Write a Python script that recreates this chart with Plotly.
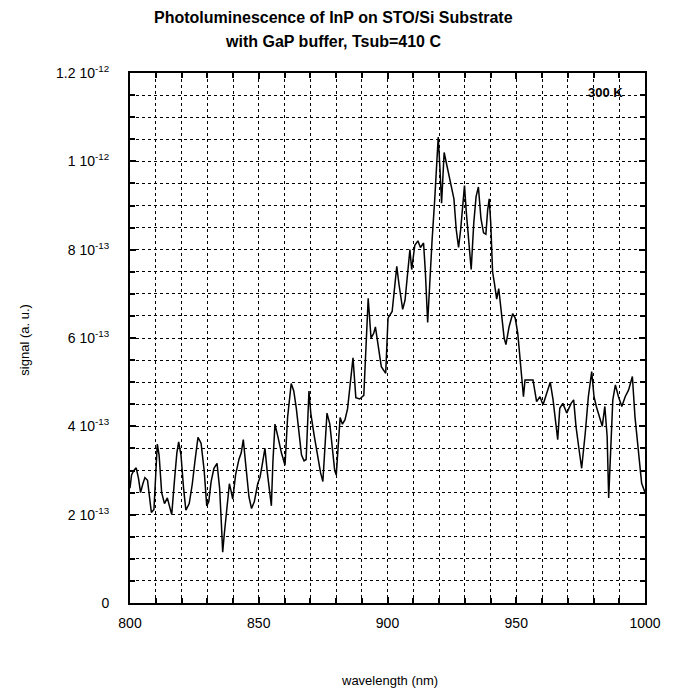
import plotly.graph_objects as go

wavelength_nm = [
    800.0, 800.6, 801.5, 802.4, 803.3, 804.1, 805.0, 805.8, 806.8, 807.6, 808.3, 809.3,
    810.0, 810.6, 811.3, 812.3, 813.4, 814.5, 815.3, 816.2, 817.3, 818.2, 818.9, 819.8,
    820.8, 821.7, 823.0, 824.2, 825.2, 826.4, 827.6, 828.8, 829.8, 830.6, 831.5, 832.6,
    833.8, 834.8, 835.4, 836.0, 836.6, 837.5, 838.6, 839.2, 839.9, 841.0, 842.3, 843.2,
    844.0, 845.0, 846.2, 847.2, 848.3, 849.6, 850.5, 851.4, 852.4, 853.3, 854.2, 854.9,
    855.5, 856.3, 857.5, 858.8, 860.2, 861.2, 862.6, 863.6, 864.6, 865.5, 866.6, 867.6,
    868.4, 869.5, 870.2, 871.5, 872.8, 874.0, 874.9, 875.8, 876.5, 877.6, 878.6, 879.5,
    880.1, 881.0, 881.6, 882.5, 883.5, 884.5, 885.4, 886.6, 887.7, 889.2, 890.8, 891.6,
    892.5, 893.6, 894.6, 895.3, 896.5, 897.6, 899.3, 900.2, 901.8, 902.6, 903.6, 904.5,
    905.9, 906.8, 908.2, 908.7, 909.4, 910.6, 911.8, 912.8, 914.0, 914.7, 915.6, 916.4,
    917.3, 918.3, 919.1, 919.7, 920.4, 921.0, 922.0, 922.9, 924.2, 925.8, 926.7, 927.6,
    928.4, 929.3, 929.9, 930.6, 931.6, 932.5, 933.5, 934.4, 935.3, 936.3, 937.3, 938.2,
    938.9, 939.5, 940.1, 940.8, 941.5, 942.4, 943.2, 944.3, 945.3, 946.0, 947.2, 948.6,
    949.6, 950.6, 951.3, 952.2, 952.8, 953.4, 954.8, 956.5, 957.9, 959.2, 960.4, 961.7,
    963.2, 964.3, 965.4, 966.1, 966.9, 968.1, 969.6, 971.3, 972.3, 973.2, 974.4, 975.4,
    976.8, 978.0, 979.3, 980.2, 981.1, 982.2, 983.4, 984.4, 985.3, 985.9, 986.6, 987.5,
    988.5, 989.7, 991.0, 992.3, 993.6, 995.1, 996.1, 997.4, 998.7, 1000.0,
]

# signal in units of 1e-13 (a. u.)
signal_e13 = [
    2.6, 2.9, 3.0, 3.06, 2.82, 2.5, 2.7, 2.84, 2.78, 2.3, 2.05, 2.12,
    2.9, 3.6, 3.35, 2.5, 2.25, 2.38, 2.2, 2.0, 2.8, 3.4, 3.65, 3.35,
    2.6, 2.1, 2.25, 2.7, 3.2, 3.75, 3.62, 3.0, 2.2, 2.3, 2.75, 3.05,
    3.16, 2.6, 1.9, 1.15, 1.55, 2.05, 2.7, 2.55, 2.35, 2.9, 3.25, 3.4,
    3.7, 3.1, 2.4, 2.14, 2.3, 2.7, 2.85, 3.15, 3.5, 2.97, 2.5, 2.2,
    3.2, 4.05, 3.75, 3.4, 3.12, 4.2, 4.97, 4.8, 4.4, 3.9, 3.35, 3.22,
    3.25, 4.8, 4.3, 3.8, 3.3, 2.95, 2.75, 3.6, 4.3, 4.05, 3.5, 3.0,
    2.9, 3.7, 4.2, 4.05, 4.15, 4.4, 4.9, 5.55, 4.65, 4.62, 4.7, 5.6,
    6.9, 6.0, 6.1, 6.25, 5.75, 5.35, 5.2, 6.45, 6.6, 7.05, 7.62, 7.2,
    6.65, 6.85, 7.75, 8.0, 7.55, 8.1, 8.2, 8.05, 8.15, 7.5, 6.35, 7.3,
    8.2, 9.1, 10.0, 10.55, 9.8, 9.05, 10.2, 9.95, 9.6, 9.15, 8.45, 8.05,
    8.45, 9.05, 9.45, 8.85, 8.05, 7.55, 8.6, 9.2, 9.42, 8.7, 8.38, 8.35,
    8.9, 9.15, 8.6, 7.5, 7.25, 6.88, 7.12, 6.5, 6.0, 5.85, 6.25, 6.55,
    6.45, 6.1, 5.6, 5.0, 4.67, 5.05, 5.05, 5.05, 4.56, 4.67, 4.49, 4.75,
    5.0, 4.6, 4.07, 3.7, 4.41, 4.52, 4.3, 4.52, 4.6, 4.0, 3.47, 3.05,
    3.85, 4.67, 5.24, 4.67, 4.45, 4.22, 4.0, 4.45, 3.77, 2.38, 3.47, 4.6,
    4.94, 4.67, 4.45, 4.67, 4.82, 5.13, 4.22, 3.47, 2.71, 2.5,
]

x_tickvals = [800, 850, 900, 950, 1000]
x_ticktext = ["800", "850", "900", "950", "1000"]
y_tickvals = [0, 2, 4, 6, 8, 10, 12]
y_ticktext = ["0", "2 10<sup>-13</sup>", "4 10<sup>-13</sup>", "6 10<sup>-13</sup>",
              "8 10<sup>-13</sup>", "1 10<sup>-12</sup>", "1.2 10<sup>-12</sup>"]

title_lines = ["Photoluminescence of InP on STO/Si Substrate", "with GaP buffer, Tsub=410 C"]
temp_label = "300 K"
x_title = "wavelength (nm)"
y_title = "signal (a. u.)"

font_family = "Liberation Sans, Arial, sans-serif"

fig = go.Figure()
fig.add_trace(go.Scatter(
    x=wavelength_nm, y=signal_e13, mode="lines",
    line=dict(color="black", width=1.5),
    hoverinfo="skip", showlegend=False,
))

axis_common = dict(
    showline=True, linecolor="black", linewidth=2, mirror="allticks",
    ticks="inside", tickcolor="black", tickwidth=1.5, ticklen=6,
    showgrid=True, gridcolor="black", gridwidth=1, griddash="dot",
    zeroline=False,
    tickfont=dict(family=font_family, size=14, color="black"),
)

fig.update_xaxes(
    range=[800, 1000], tickvals=x_tickvals, ticktext=x_ticktext,
    ticklabelstandoff=6,
    minor=dict(dtick=10, tick0=800, ticks="inside", ticklen=5, tickcolor="black",
               showgrid=True, gridcolor="black", gridwidth=1, griddash="dot"),
    **axis_common,
)
fig.update_yaxes(
    range=[0, 12], tickvals=y_tickvals, ticktext=y_ticktext,
    ticklabelstandoff=16,
    minor=dict(dtick=0.5, tick0=0, ticks="inside", ticklen=5, tickcolor="black",
               showgrid=True, gridcolor="black", gridwidth=1, griddash="dot"),
    **axis_common,
)

# text positions given in page pixels, converted to paper coordinates
plot_left, plot_width = 130, 523
plot_bottom, plot_height = 603, 530


def px_to_paper(xp, yp):
    return (xp - plot_left) / plot_width, (plot_bottom - yp) / plot_height


anns = []
for text, (xp, yp), size, bold, angle in [
    (title_lines[0], (336.5, 18), 16, True, 0),
    (title_lines[1], (336.5, 41), 16, True, 0),
    (temp_label, (613, 92), 13, True, 0),
    (x_title, (394, 680), 13, False, 0),
    (y_title, (22, 340), 13, False, -90),
]:
    xpp, ypp = px_to_paper(xp, yp)
    anns.append(dict(
        text=("<b>" + text + "</b>") if bold else text,
        x=xpp, y=ypp, xref="paper", yref="paper",
        xanchor="center", yanchor="middle", showarrow=False, textangle=angle,
        font=dict(family=font_family, size=size, color="black"),
    ))

fig.update_layout(
    width=673, height=694,
    margin=dict(l=130, r=20, t=73, b=91),
    paper_bgcolor="white", plot_bgcolor="white",
    font=dict(family=font_family, color="black"),
    annotations=anns,
)

fig.write_html("out.html")
